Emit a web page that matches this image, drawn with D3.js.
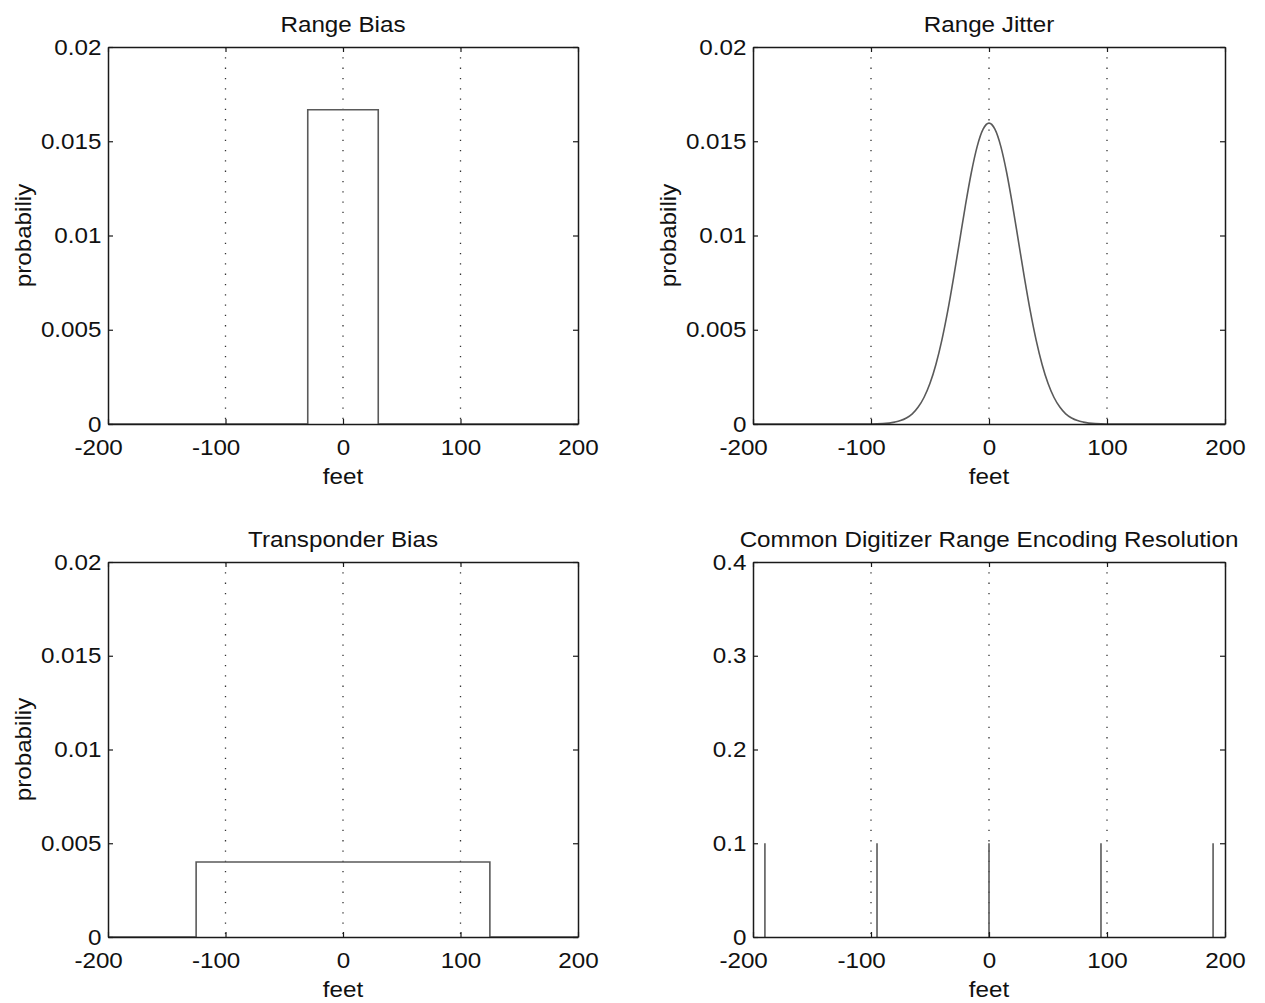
<!DOCTYPE html>
<html>
<head>
<meta charset="utf-8">
<script src="https://cdn.jsdelivr.net/npm/d3@7"></script>
<style>
  html, body { margin: 0; padding: 0; background: #fff; }
  svg { display: block; }
  text { font-family: "Liberation Sans", Arial, Helvetica, sans-serif; fill: #111; }
</style>
</head>
<body>
<svg id="fig" width="1265" height="1003"></svg>
<script>
// ---- data ----
const xTicks = [-200, -100, 0, 100, 200];
const gridX = [-100, 0, 100];
const probTicks = [0, 0.005, 0.01, 0.015, 0.02];
const digitizerTicks = [0, 0.1, 0.2, 0.3, 0.4];

// Range bias: uniform density over +/-30 ft
const rangeBiasX = [-200, -30, -30, 30, 30, 200];
const rangeBiasP = [0, 0, 0.01667, 0.01667, 0, 0];

// Range jitter: bell-shaped density
const jitterX = [-200, -100, -90, -80, -75, -70, -65, -60, -55, -50, -45, -40, -35, -30, -25, -20, -15, -10, -5, 0,
                 5, 10, 15, 20, 25, 30, 35, 40, 45, 50, 55, 60, 65, 70, 75, 80, 90, 100, 200];
const jitterP = [0, 0, 0.00002, 0.0001, 0.00018, 0.00032, 0.00054, 0.0009, 0.00142, 0.00216, 0.00316, 0.00444, 0.00599, 0.00777, 0.00968, 0.01159, 0.01333, 0.01473, 0.01564, 0.01596,
                 0.01564, 0.01473, 0.01333, 0.01159, 0.00968, 0.00777, 0.00599, 0.00444, 0.00316, 0.00216, 0.00142, 0.0009, 0.00054, 0.00032, 0.00018, 0.0001, 0.00002, 0, 0];

// Transponder bias: uniform density over +/-125 ft
const transponderX = [-200, -125, -125, 125, 125, 200];
const transponderP = [0, 0, 0.004, 0.004, 0, 0];

// Common digitizer range encoding: discrete spikes every 1/64 nmi
const spikeX = [-189.9, -94.9, 0, 94.9, 189.9];
const spikeP = [0.1, 0.1, 0.1, 0.1, 0.1];

// ---- layout ----
const svg = d3.select("#fig");
const FONT = 22, STRETCH = 1.1;
const plainNum = d => String(d);   // plain hyphen for negatives
const panels = [
  { title: "Range Bias", left: 108, top: 47, w: 470, h: 377, yMax: 0.02, yTicks: probTicks, ylab: "probabiliy" },
  { title: "Range Jitter", left: 753, top: 47, w: 472, h: 377, yMax: 0.02, yTicks: probTicks, ylab: "probabiliy" },
  { title: "Transponder Bias", left: 108, top: 562, w: 470, h: 375, yMax: 0.02, yTicks: probTicks, ylab: "probabiliy" },
  { title: "Common Digitizer Range Encoding Resolution", left: 753, top: 562, w: 472, h: 375, yMax: 0.4, yTicks: digitizerTicks, ylab: null }
];

function styleTicks(sel) {
  sel.selectAll(".domain").attr("stroke", "#1a1a1a").attr("stroke-width", 1.5);
  sel.selectAll(".tick line").attr("stroke", "#1a1a1a").attr("stroke-width", 1.2);
  sel.selectAll(".tick text")
    .attr("font-size", FONT)
    .attr("fill", "#111")
    .style("font-family", "'Liberation Sans', Arial, sans-serif");
}

function drawPanel(p, i) {
  const g = svg.append("g").attr("transform", `translate(${p.left},${p.top})`);
  const x = d3.scaleLinear().domain([-200, 200]).range([0, p.w]);
  const y = d3.scaleLinear().domain([0, p.yMax]).range([p.h, 0]);

  // dotted vertical grid
  g.append("g").selectAll("line").data(gridX).join("line")
    .attr("x1", d => x(d)).attr("x2", d => x(d))
    .attr("y1", 0).attr("y2", p.h)
    .attr("stroke", "#333").attr("stroke-width", 1.3)
    .attr("stroke-dasharray", "1.3,9");

  // data
  const line = d3.line().x(d => x(d[0])).y(d => y(d[1]));
  const mark = g.append("g").attr("fill", "none").attr("stroke", "#5a5a5a").attr("stroke-width", 1.6);
  if (i === 0) mark.append("path").attr("d", line(d3.zip(rangeBiasX, rangeBiasP)));
  if (i === 1) mark.append("path").attr("d", d3.line().curve(d3.curveMonotoneX).x(d => x(d[0])).y(d => y(d[1]))(d3.zip(jitterX, jitterP)));
  if (i === 2) mark.append("path").attr("d", line(d3.zip(transponderX, transponderP)));
  if (i === 3) {
    mark.selectAll("line").data(d3.zip(spikeX, spikeP)).join("line")
      .attr("x1", d => x(d[0])).attr("x2", d => x(d[0]))
      .attr("y1", y(0)).attr("y2", d => y(d[1]));
  }

  // axes (inward ticks on all four sides)
  const bottom = g.append("g").attr("transform", `translate(0,${p.h})`)
    .call(d3.axisBottom(x).tickValues(xTicks).tickFormat(plainNum).tickSizeInner(-5).tickSizeOuter(0).tickPadding(15));
  styleTicks(bottom);
  bottom.selectAll(".tick text")
    .attr("x", d => d < 0 ? -9 : 0)
    .attr("transform", `scale(${STRETCH},1)`);

  const leftAx = g.append("g")
    .call(d3.axisLeft(y).tickValues(p.yTicks).tickFormat(plainNum).tickSizeInner(-5).tickSizeOuter(0).tickPadding(6));
  styleTicks(leftAx);
  leftAx.selectAll(".tick text").attr("transform", `scale(${STRETCH},1)`);

  const topAx = g.append("g")
    .call(d3.axisTop(x).tickValues(xTicks).tickSizeInner(-5).tickSizeOuter(0).tickFormat(""));
  styleTicks(topAx);
  const rightAx = g.append("g").attr("transform", `translate(${p.w},0)`)
    .call(d3.axisRight(y).tickValues(p.yTicks).tickSizeInner(-5).tickSizeOuter(0).tickFormat(""));
  styleTicks(rightAx);

  // title
  g.append("text")
    .attr("transform", `translate(${p.w / 2},-15) scale(${STRETCH},1)`)
    .attr("text-anchor", "middle").attr("font-size", FONT)
    .text(p.title);

  // x label
  g.append("text")
    .attr("transform", `translate(${p.w / 2},${p.h + 60}) scale(${STRETCH},1)`)
    .attr("text-anchor", "middle").attr("font-size", FONT)
    .text("feet");

  // y label
  if (p.ylab) {
    g.append("text")
      .attr("transform", `translate(-77,${p.h / 2}) rotate(-90) scale(${STRETCH},1)`)
      .attr("text-anchor", "middle").attr("font-size", FONT)
      .text(p.ylab);
  }
}

panels.forEach(drawPanel);
</script>
</body>
</html>
